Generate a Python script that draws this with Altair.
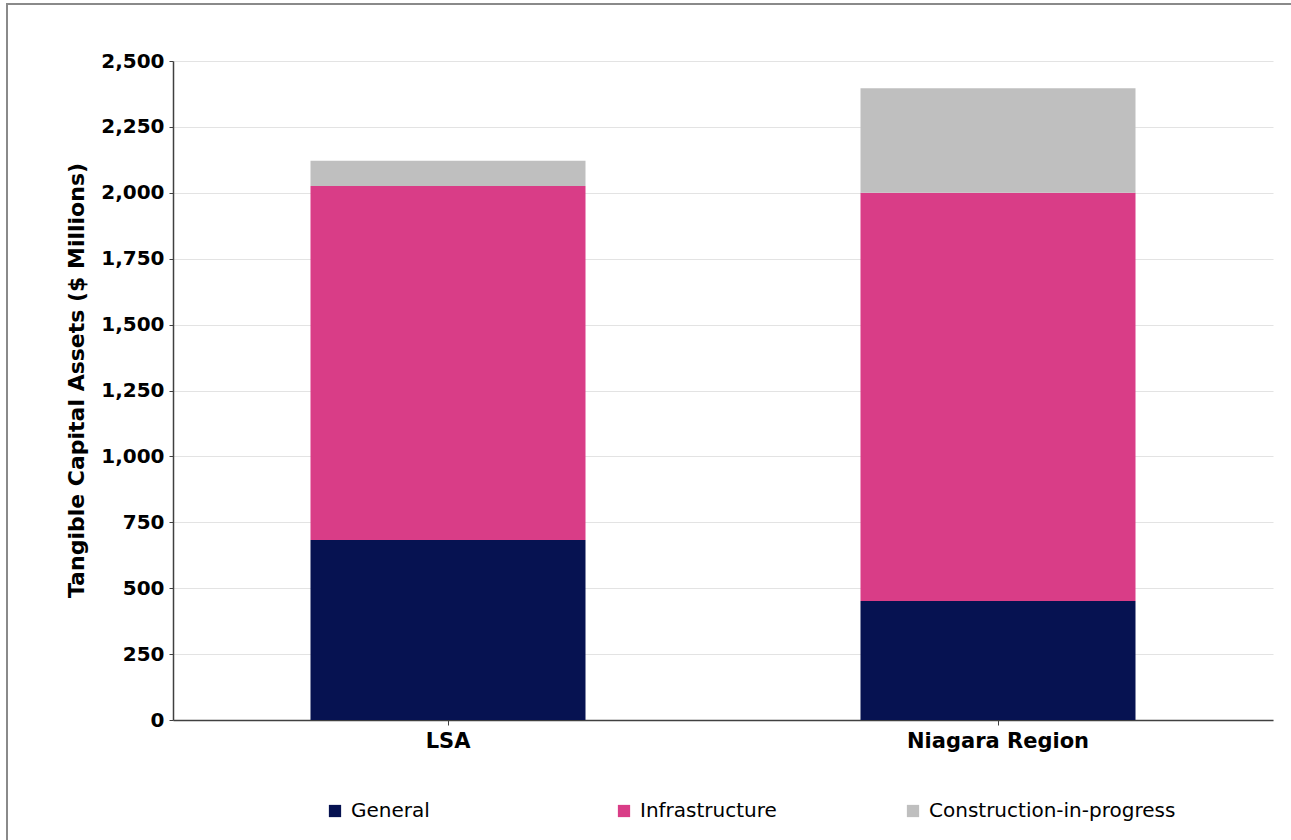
import altair as alt
import pandas as pd

# Tangible capital assets by asset class, $ millions
areas = ["LSA", "Niagara Region"]
classes = ["General", "Infrastructure", "Construction-in-progress"]
general = [683, 451]
infrastructure = [1343, 1549]
construction = [96, 397]
colors = ["#061251", "#D93D87", "#BFBFBF"]

rows = []
for i, area in enumerate(areas):
    for k, (cls, vals) in enumerate(zip(classes, [general, infrastructure, construction])):
        rows.append({"area": area, "cls": cls, "value": vals[i], "idx": k})
df = pd.DataFrame(rows)

W, H = 1100, 659
FONT = "DejaVu Sans"

bars = alt.Chart(df).mark_bar().encode(
    x=alt.X(
        "area:N",
        sort=areas,
        title=None,
        scale=alt.Scale(paddingInner=0.5, paddingOuter=0.25),
        axis=alt.Axis(
            labelAngle=0, labelFont=FONT, labelFontWeight="bold", labelFontSize=21,
            labelColor="#000000", labelPadding=5, labelLimit=400,
            tickSize=5, tickColor="#404040",
            domainColor="#404040", domainWidth=1.5, grid=False,
        ),
    ),
    y=alt.Y(
        "value:Q",
        stack="zero",
        title="Tangible Capital Assets ($ Millions)",
        scale=alt.Scale(domain=[0, 2500], nice=False),
        axis=alt.Axis(
            values=list(range(0, 2501, 250)), format=",d",
            labelFont=FONT, labelFontWeight="bold", labelFontSize=20, labelColor="#000000",
            labelPadding=5, tickSize=4, tickColor="#404040",
            domainColor="#404040", domainWidth=1.5,
            gridColor="#E3E3E3", gridWidth=1.2,
            titleFont=FONT, titleFontWeight="bold", titleFontSize=22, titleColor="#000000",
            titlePadding=12, titleY=319,
        ),
    ),
    color=alt.Color(
        "cls:N",
        sort=classes,
        scale=alt.Scale(domain=classes, range=colors),
        legend=alt.Legend(
            title=None, orient="none", direction="horizontal", legendX=152, legendY=740,
            columns=3, gridAlign="all", columnPadding=16,
            symbolType="square", symbolSize=150, symbolStrokeWidth=0, symbolOffset=0,
            labelFont=FONT, labelFontSize=20, labelColor="#000000", labelOffset=6,
            labelLimit=400,
        ),
    ),
    order=alt.Order("idx:Q", sort="ascending"),
)

# outer frame line around the figure
frame = alt.Chart(pd.DataFrame({"a": [0]})).mark_rect(
    fill=None, stroke="#8A8A8A", strokeWidth=2
).encode(
    x=alt.value(-166), x2=alt.value(W + 150),
    y=alt.value(-57), y2=alt.value(H + 250),
)

chart = alt.layer(frame, bars).properties(
    width=W, height=H,
    autosize=alt.AutoSizeParams(type="none"),
    padding={"left": 173, "top": 61, "right": 18, "bottom": 120},
    background="#FFFFFF",
).configure_view(stroke=None)

chart.save("out.html", embed_options={"renderer": "svg", "actions": False})
